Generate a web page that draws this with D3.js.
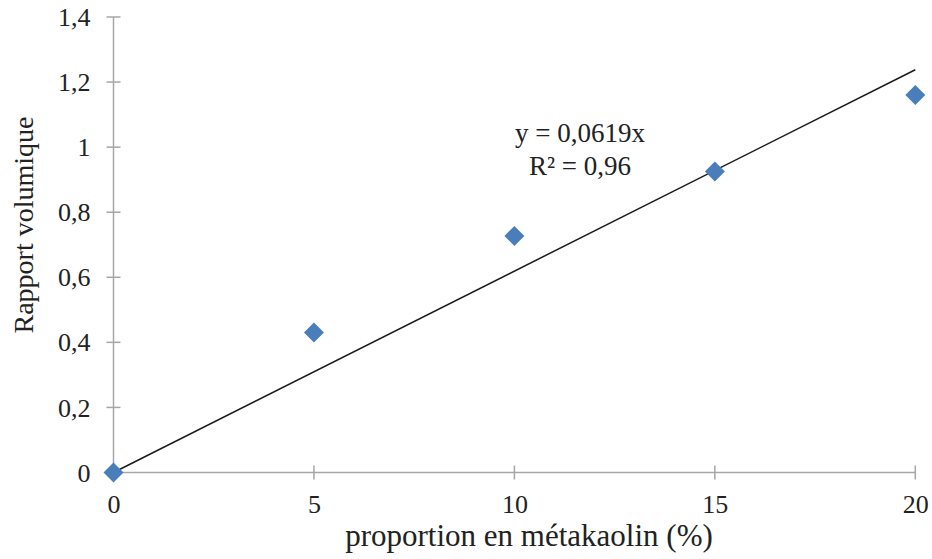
<!DOCTYPE html>
<html><head><meta charset="utf-8">
<script src="https://cdn.jsdelivr.net/npm/d3@7"></script>
<style>body{margin:0;background:#fff}svg{display:block}text{font-family:"Liberation Serif","Times New Roman",serif;fill:#222}</style>
</head><body>
<script>
const xValues = [0, 5, 10, 15, 20];
const yValues = [0, 0.43, 0.727, 0.925, 1.16];
const xTicks = [0, 5, 10, 15, 20];
const yTicks = [0, 0.2, 0.4, 0.6, 0.8, 1, 1.2, 1.4];
const slope = 0.0619;
const equationLines = ["y = 0,0619x", "R² = 0,96"];
const xTitle = "proportion en métakaolin (%)";
const yTitle = "Rapport volumique";

const W = 932, H = 559;
const svg = d3.select("body").append("svg").attr("width", W).attr("height", H);
const x = d3.scaleLinear().domain([0, 20]).range([113.5, 915.3]);
const y = d3.scaleLinear().domain([0, 1.4]).range([472.5, 17]);
const fmt = d => String(d).replace(".", ",");
const axisColor = "#a6a6a6";

// y axis
const ya = svg.append("g").attr("transform", `translate(${x(0)},0)`)
  .call(d3.axisLeft(y).tickValues(yTicks).tickFormat(fmt).tickSize(0).tickPadding(23));
ya.select(".domain").remove();
ya.selectAll("text").style("font-size", "26px").attr("font-family", null).attr("dy", "0.33em");
svg.append("line").attr("x1", x(0)).attr("x2", x(0)).attr("y1", y(1.4)).attr("y2", y(0))
  .attr("stroke", axisColor).attr("stroke-width", 1.5);
svg.selectAll(".ytk").data(yTicks).enter().append("line")
  .attr("x1", x(0) - 7).attr("x2", x(0) + 7).attr("y1", d => y(d)).attr("y2", d => y(d))
  .attr("stroke", axisColor).attr("stroke-width", 1.5);

// x axis
const xa = svg.append("g").attr("transform", `translate(0,${y(0)})`)
  .call(d3.axisBottom(x).tickValues(xTicks).tickFormat(fmt).tickSize(0).tickPadding(22));
xa.select(".domain").remove();
xa.selectAll("text").style("font-size", "26px").attr("font-family", null);
svg.append("line").attr("x1", x(0)).attr("x2", x(20)).attr("y1", y(0)).attr("y2", y(0))
  .attr("stroke", axisColor).attr("stroke-width", 1.5);
svg.selectAll(".xtk").data(xTicks).enter().append("line")
  .attr("x1", d => x(d)).attr("x2", d => x(d)).attr("y1", y(0) - 7).attr("y2", y(0) + 7)
  .attr("stroke", axisColor).attr("stroke-width", 1.5);

// trendline
svg.append("line").attr("x1", x(0)).attr("y1", y(0)).attr("x2", x(20)).attr("y2", y(slope * 20))
  .attr("stroke", "#1a1a1a").attr("stroke-width", 1.5);

// points
const pts = xValues.map((v, i) => ({x: v, y: yValues[i]}));
svg.selectAll(".pt").data(pts).enter().append("path")
  .attr("d", d3.symbol().type(d3.symbolSquare).size(200))
  .attr("transform", d => `translate(${x(d.x)},${y(d.y)}) rotate(45)`)
  .attr("fill", "#4a7ebb");

// equation
svg.append("text").attr("x", 580).attr("y", 142).attr("text-anchor", "middle")
  .style("font-size", "27px").text(equationLines[0]);
svg.append("text").attr("x", 580).attr("y", 175).attr("text-anchor", "middle")
  .style("font-size", "27px").text(equationLines[1]);

// titles
svg.append("text").attr("x", 529).attr("y", 546).attr("text-anchor", "middle")
  .style("font-size", "31px").text(xTitle);
svg.append("text").attr("transform", `translate(33,225) rotate(-90)`)
  .attr("text-anchor", "middle").style("font-size", "28px").text(yTitle);
</script>
</body></html>
